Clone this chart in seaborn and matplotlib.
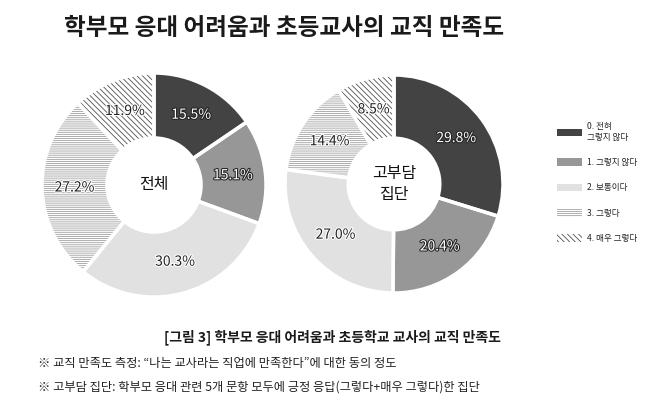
import matplotlib
matplotlib.use("Agg")
import matplotlib.pyplot as plt
import matplotlib.patheffects as pe
from matplotlib.patches import Patch
import numpy as np
import seaborn as sns

# data
categories = ["0. 전혀\n그렇지 않다", "1. 그렇지 않다", "2. 보통이다", "3. 그렇다", "4. 매우 그렇다"]
total_values = [15.5, 15.1, 30.3, 27.2, 11.9]
burden_values = [29.8, 20.4, 27.0, 14.4, 8.5]
group_names = ["전체", "고부담\n집단"]

title = "학부모 응대 어려움과 초등교사의 교직 만족도"
caption = "[그림 3] 학부모 응대 어려움과 초등학교 교사의 교직 만족도"
notes = [
    "※ 교직 만족도 측정: \u201c나는 교사라는 직업에 만족한다\u201d에 대한 동의 정도",
    "※ 고부담 집단: 학부모 응대 관련 5개 문항 모두에 긍정 응답(그렇다+매우 그렇다)한 집단",
]

sns.set_theme(style="white")
plt.rcParams["font.family"] = ["Noto Sans CJK KR", "DejaVu Sans"]
plt.rcParams["hatch.linewidth"] = 0.6

face_colors = ["#434343", "#979797", "#e1e1e1", "white", "white"]
hatch_colors = ["#434343", "#979797", "#e1e1e1", "#a0a0a0", "#505050"]
hatches = [None, None, None, "--------", "\\\\\\\\\\\\"]
text_colors = ["white", "white", "#222222", "#222222", "#222222"]

fig = plt.figure(figsize=(6.58, 4.09), dpi=100)

hole = 0.42
ax_boxes = [
    [(154 - 112) / 658, (409 - 185 - 112) / 409, 224 / 658, 224 / 409],
    [(394 - 109) / 658, (409 - 184 - 109) / 409, 218 / 658, 218 / 409],
]


def donut(ax, values, label):
    wedges, _ = ax.pie(values, startangle=90, counterclock=False,
                       colors=face_colors, radius=1,
                       wedgeprops=dict(width=1 - hole, linewidth=0))
    for w, hc, h in zip(wedges, hatch_colors, hatches):
        w.set_edgecolor(hc)
        w.set_linewidth(0)
        if h:
            w.set_hatch(h)
    # white gaps between slices
    ax.pie(values, startangle=90, counterclock=False, radius=1,
           wedgeprops=dict(width=1 - hole, fill=False, edgecolor="white", linewidth=2.5))
    mid_r = (1 + hole) / 2
    for w, v, tc in zip(wedges, values, text_colors):
        ang = np.deg2rad((w.theta1 + w.theta2) / 2)
        x, y = mid_r * np.cos(ang), mid_r * np.sin(ang)
        stroke = "#222222" if tc == "white" else "white"
        ax.text(x, y, f"{v:.1f}%", ha="center", va="center", fontsize=10,
                color=tc, path_effects=[pe.withStroke(linewidth=1.5, foreground=stroke)])
    ax.text(0, 0, label, ha="center", va="center", fontsize=11.5, color="#111111",
            fontweight="medium", linespacing=1.3)
    ax.set_xlim(-1, 1)
    ax.set_ylim(-1, 1)
    ax.set_aspect("equal")
    ax.axis("off")


for box, vals, name in zip(ax_boxes, [total_values, burden_values], group_names):
    ax = fig.add_axes(box)
    donut(ax, vals, name)

handles = []
for fc, hc, h in zip(face_colors, hatch_colors, hatches):
    p = Patch(facecolor=fc, edgecolor=hc, linewidth=0, hatch=h)
    handles.append(p)
fig.legend(handles, categories, loc="upper left", bbox_to_anchor=(553 / 658, 1 - 118 / 409),
           frameon=False, fontsize=6.2, handlelength=2.9, handleheight=1.0,
           labelspacing=1.9, handletextpad=0.5, borderpad=0)

fig.text(0.432, 1 - 28 / 409, title, ha="center", va="center", fontsize=17,
         fontweight="bold", color="#1a1a1a")
fig.text(0.505, 1 - 337 / 409, caption, ha="center", va="center", fontsize=10,
         fontweight="bold", color="#1a1a1a")
for i, n in enumerate(notes):
    fig.text(38 / 658, 1 - (363 + 24 * i) / 409, n, ha="left", va="center",
             fontsize=8.8, color="#222222")

fig.savefig("out.png", dpi=100)
